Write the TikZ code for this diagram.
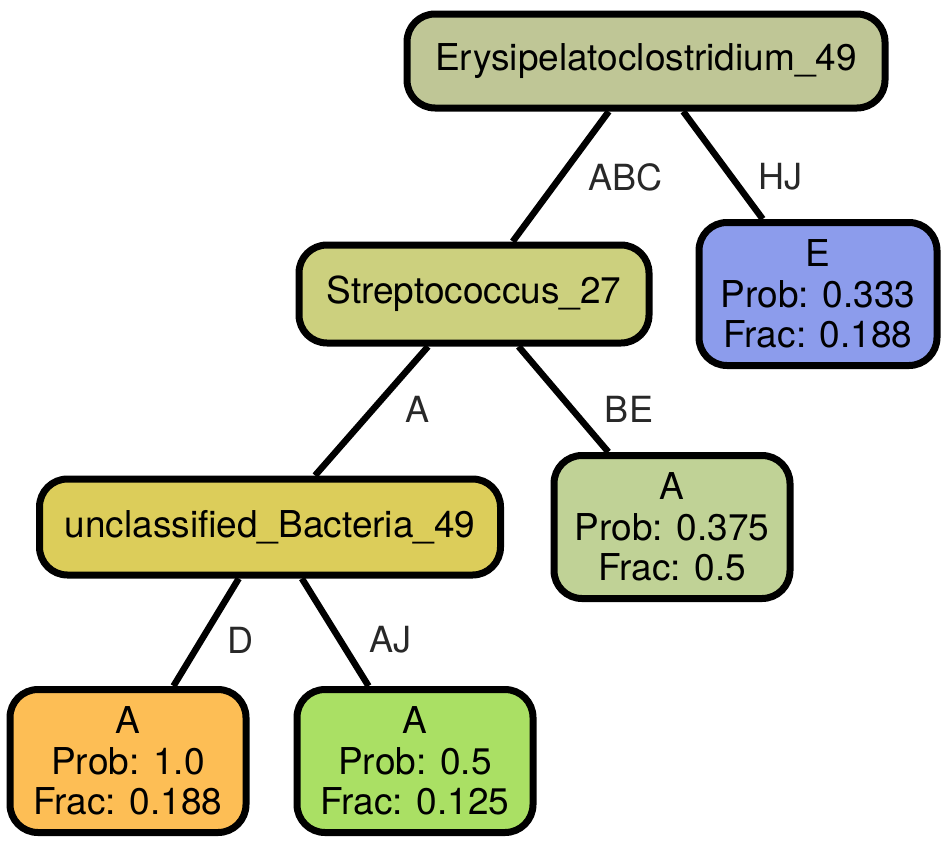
\documentclass[tikz,border=0pt]{standalone}
\usepackage{fontspec}
\setmainfont{TeX Gyre Heros}
\usetikzlibrary{backgrounds}
\definecolor{cRoot}{RGB}{191,198,150}
\definecolor{cStrep}{RGB}{204,208,126}
\definecolor{cUncl}{RGB}{220,205,90}
\definecolor{cE}{RGB}{140,156,236}
\definecolor{cAb}{RGB}{192,210,150}
\definecolor{cAo}{RGB}{253,190,85}
\definecolor{cAg}{RGB}{170,224,100}
\definecolor{lblgray}{RGB}{40,40,40}
\tikzset{
  treebox/.style={draw=black, line width=7pt, rounded corners=28pt, inner sep=0pt,
    align=center, font=\fontsize{37}{40.5}\selectfont, text=black},
  leafbox/.style={treebox, minimum width=236pt, minimum height=143pt},
  edge/.style={draw=black, line width=6.5pt},
  elabel/.style={font=\fontsize{36}{40}\selectfont, text=lblgray, inner sep=0pt}
}
\begin{document}
\begin{tikzpicture}[x=1pt, y=-1pt]
\useasboundingbox (0,0) rectangle (949,846);
% internal nodes
\node[treebox, fill=cRoot, minimum width=478pt, minimum height=94pt] (root) at (646,61) {Erysipelatoclostridium\_49};
\node[treebox, fill=cStrep, minimum width=350pt, minimum height=98pt] (strep) at (474,294) {Streptococcus\_27};
\node[treebox, fill=cUncl, minimum width=461pt, minimum height=96pt] (uncl) at (270,527) {unclassified\_Bacteria\_49};
% leaves
\node[leafbox, fill=cE, minimum width=238pt] (leafE) at (818,294) {E\\Prob: 0.333\\Frac: 0.188};
\node[leafbox, fill=cAb] (leafAb) at (672,527) {A\\Prob: 0.375\\Frac: 0.5};
\node[leafbox, fill=cAo] (leafAo) at (128,761) {A\\Prob: 1.0\\Frac: 0.188};
\node[leafbox, fill=cAg] (leafAg) at (415,761) {A\\Prob: 0.5\\Frac: 0.125};
% connectors behind the boxes
\begin{scope}[on background layer]
\draw[edge] (root) -- (strep);
\draw[edge] (root) -- (leafE);
\draw[edge] (strep) -- (uncl);
\draw[edge] (strep) -- (leafAb);
\draw[edge] (uncl) -- (leafAo);
\draw[edge] (uncl) -- (leafAg);
\end{scope}
% connector labels
\node[elabel] (lABC) at (625,177) {ABC};
\node[elabel] (lHJ) at (780,177) {HJ};
\node[elabel] (lA) at (417,409) {A};
\node[elabel] (lBE) at (629,409) {BE};
\node[elabel] (lD) at (240,640) {D};
\node[elabel] (lAJ) at (390,640) {AJ};
\end{tikzpicture}
\end{document}
